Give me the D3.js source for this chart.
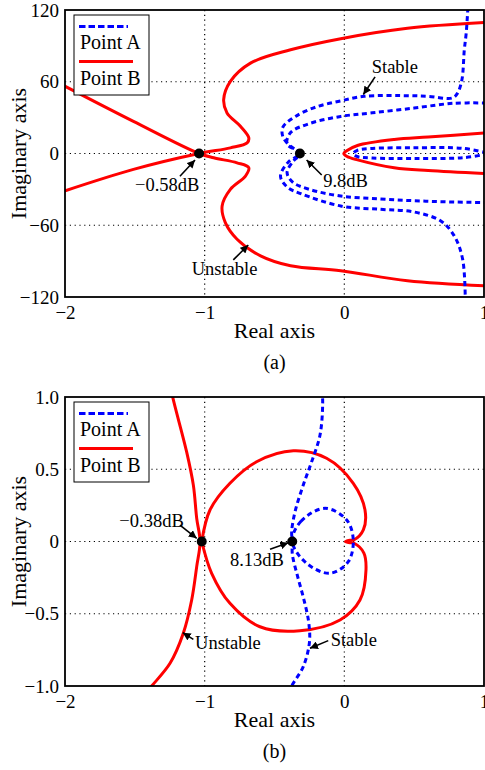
<!DOCTYPE html>
<html>
<head>
<meta charset="utf-8">
<script src="https://cdn.jsdelivr.net/npm/d3@7"></script>
<style>
  html, body { margin: 0; padding: 0; background: #fff; }
  svg { display: block; }
  svg text { font-family: "Liberation Serif", "DejaVu Serif", serif; fill: #000; }
</style>
</head>
<body>
<svg id="chart" width="485" height="770"></svg>
<script>
// ---------- panel (a): Nyquist loci, wide view ----------
const aXTicks = [-2, -1, 0, 1];
const aYTicks = [120, 60, 0, -60, -120];
const aGridX = [-1, 0];
const aGridY = [60, 0, -60];

// Point B (red) – upper branch, from the top right through the -1 crossing
const aRedUpper = [[1.02,109.6],[0.452,104.7],[-0.026,96],[-0.385,86.7],[-0.672,75.6],[-0.816,60.3],
  [-0.864,45],[-0.84,33.9],[-0.744,22.8],[-0.684,13.1],[-0.696,8.9],[-0.816,4.7],[-1.04,0],
  [-1.51,-13.3],[-2.02,-32]];
// Point B (red) – lower branch
const aRedLower = [[1.02,-110.7],[0.452,-106.4],[-0.026,-98],[-0.385,-93.9],[-0.6,-85.6],[-0.768,-71.7],
  [-0.852,-57.8],[-0.875,-43.9],[-0.816,-30],[-0.708,-18.9],[-0.684,-11.9],[-0.768,-7.8],
  [-0.935,-3.6],[-1.04,0],[-1.51,26.9],[-2.02,57.5]];
// Point B (red) – narrow loop near the origin
const aRedLoop = [[1.02,17.3],[0.6,13.8],[0.357,11.7],[0.094,6.7],[0.02,2.5],[-0.004,0],
  [0.02,-2.5],[0.094,-5.3],[0.357,-11.9],[0.6,-14.3],[1.02,-16.8]];

// Point A (blue) – branch entering from the top
const aBlueOuter = [[0.885,122],[0.872,100],[0.859,86.7],[0.842,61.7],[0.811,50.6],[0.775,46.5],
  [0.6,47.8],[0.476,48.3],[0.141,47.8],[-0.026,44],[-0.2,39],[-0.35,31],[-0.44,22],[-0.44,14],
  [-0.39,6.5],[-0.318,0],[-0.37,-7],[-0.41,-16],[-0.37,-24],[-0.25,-30],[-0.026,-35.6],
  [0.25,-38],[0.5,-39.5],[0.75,-40.5],[1.02,-41]];
// Point A (blue) – branch leaving at the bottom
const aBlueInner = [[1.02,42.2],[0.78,42],[0.5,38],[0.2,34],[-0.026,31],[-0.25,25],[-0.385,17.5],
  [-0.41,8],[-0.318,0],[-0.4,-7],[-0.457,-19],[-0.41,-28],[-0.313,-33.5],[-0.026,-43.9],
  [0.261,-46.7],[0.5,-48.9],[0.691,-56.4],[0.787,-68.9],[0.847,-88.3],[0.866,-122]];
// Point A (blue) – thin loop along the real axis
const aBlueLoop = [[1.02,0.5],[0.85,4.3],[0.5,4.8],[0.2,4.2],[0.09,2.5],[0.065,0],[0.09,-2.5],
  [0.2,-3.8],[0.5,-4.2],[0.85,-3.5],[1.02,-0.5]];

const aMarkers = [[-1.04, 0], [-0.318, 0]];
const aNotes = [
  { text: "\u22120.58dB", at: [-1.499, -31], from: [-1.177, -19], to: [-1.069, -5.4] },
  { text: "9.8dB",       at: [-0.151, -28.2], from: [-0.162, -18], to: [-0.27, -5.4] },
  { text: "Stable",      at: [0.196, 66.9], from: [0.22, 64.1], to: [0.136, 49.3] },
  { text: "Unstable",    at: [-1.093, -101.6], from: [-0.795, -89], to: [-0.688, -76.5] }
];

// ---------- panel (b): close-up around -1 ----------
const bXTicks = [-2, -1, 0, 1];
const bYTicks = [1.0, 0.5, 0, -0.5, -1.0];
const bGridX = [-1, 0];
const bGridY = [0.5, 0, -0.5];

// Point B (red) – open branch through the -1 region
const bRedBranch = [[-1.24,1.06],[-1.229,1.0],[-1.129,0.62],[-1.081,0.39],[-1.057,0.16],[-1.033,0.0],
  [-1.057,-0.174],[-1.093,-0.405],[-1.153,-0.635],[-1.248,-0.843],[-1.379,-1.0],[-1.42,-1.05]];
// Point B (red) – heart-shaped loop with its cusp near the origin
const bRedLoop = [[-1.021,0],[-0.962,0.218],[-0.819,0.403],[-0.628,0.552],[-0.365,0.628],
  [-0.127,0.576],[0.064,0.403],[0.148,0.218],[0.136,0.08],[0.07,0.012],[0.03,0.008],[0.008,0],
  [0.03,-0.008],[0.07,-0.012],[0.14,-0.08],[0.155,-0.197],[0.112,-0.405],[-0.031,-0.543],
  [-0.318,-0.617],[-0.604,-0.59],[-0.819,-0.428],[-0.95,-0.22],[-1.021,0]];

// Point A (blue) – open branch
const bBlueBranch = [[-0.16,1.05],[-0.155,0.956],[-0.174,0.737],[-0.234,0.552],[-0.294,0.391],
  [-0.353,0.206],[-0.377,0.068],[-0.373,0],[-0.372,-0.09],[-0.335,-0.24],[-0.29,-0.4],
  [-0.255,-0.56],[-0.25,-0.7],[-0.294,-0.866],[-0.377,-1.0],[-0.395,-1.05]];
// Point A (blue) – small circle
const bBlueLoop = [[-0.373,0],[-0.31,0.14],[-0.138,0.23],[0.017,0.149],[0.064,0.01],
  [0.028,-0.14],[-0.103,-0.22],[-0.27,-0.151]];

const bMarkers = [[-1.021, 0], [-0.373, 0]];
const bNotes = [
  { text: "\u22120.38dB", at: [-1.611, 0.102], from: [-1.177, 0.114], to: [-1.057, 0.022] },
  { text: "8.13dB",      at: [-0.819, -0.17], from: [-0.532, -0.054], to: [-0.401, -0.008] },
  { text: "Unstable",    at: [-1.069, -0.744], from: [-1.081, -0.677], to: [-1.157, -0.631] },
  { text: "Stable",      at: [-0.098, -0.723], from: [-0.115, -0.686], to: [-0.246, -0.739] }
];

const legendLabels = ["Point A", "Point B"];

// ---------- drawing ----------
const FONT = '"Liberation Serif", "DejaVu Serif", serif';
const RED = "#ff0000", BLUE = "#0000ff";
const svg = d3.select("#chart");

svg.append("defs").append("marker")
  .attr("id", "arrow").attr("viewBox", "0 0 10 10")
  .attr("refX", 10).attr("refY", 5)
  .attr("markerWidth", 5).attr("markerHeight", 5)
  .attr("markerUnits", "strokeWidth")
  .attr("orient", "auto")
  .append("path").attr("d", "M0,0 L10,5 L0,10 Z").attr("fill", "#000");

function minus(s) { return String(s).replace("-", "\u2212"); }

function drawPanel(cfg) {
  const { left, top, right, bottom } = cfg.box;
  const x = d3.scaleLinear().domain([-2, 1]).range([left, right]);
  const y = d3.scaleLinear().domain(cfg.yDomain).range([bottom, top]);
  const g = svg.append("g");

  const clipId = "clip-" + cfg.id;
  svg.select("defs").append("clipPath").attr("id", clipId)
    .append("rect").attr("x", left).attr("y", top)
    .attr("width", right - left).attr("height", bottom - top);

  // dotted grid
  const grid = g.append("g").attr("stroke", "#000").attr("stroke-width", 1.2)
    .attr("stroke-dasharray", "1.2,3.6");
  cfg.gridX.forEach(v => grid.append("line")
    .attr("x1", x(v)).attr("x2", x(v)).attr("y1", top).attr("y2", bottom));
  cfg.gridY.forEach(v => grid.append("line")
    .attr("x1", left).attr("x2", right).attr("y1", y(v)).attr("y2", y(v)));

  // curves
  const line = d3.line().x(d => x(d[0])).y(d => y(d[1])).curve(d3.curveCatmullRom.alpha(0.5));
  const closed = d3.line().x(d => x(d[0])).y(d => y(d[1])).curve(d3.curveCatmullRomClosed.alpha(0.5));
  const curves = g.append("g").attr("clip-path", `url(#${clipId})`).attr("fill", "none");
  cfg.red.forEach(s => curves.append("path").attr("d", line(s))
    .attr("stroke", RED).attr("stroke-width", 3).attr("stroke-linejoin", "round"));
  cfg.blue.forEach(s => curves.append("path").attr("d", line(s))
    .attr("stroke", BLUE).attr("stroke-width", 3).attr("stroke-dasharray", "5,3.6"));
  (cfg.blueClosed || []).forEach(s => curves.append("path").attr("d", closed(s))
    .attr("stroke", BLUE).attr("stroke-width", 3).attr("stroke-dasharray", "5,3.6"));

  // axes labels
  const yAxis = d3.axisLeft(y).tickValues(cfg.yTicks).tickSize(0).tickPadding(6).tickFormat(cfg.yFormat);
  const xAxis = d3.axisBottom(x).tickValues(cfg.xTicks).tickSize(0).tickPadding(8.5).tickFormat(d => minus(d));
  const ya = g.append("g").attr("transform", `translate(${left},0)`).call(yAxis);
  const xa = g.append("g").attr("transform", `translate(0,${bottom})`).call(xAxis);
  [ya, xa].forEach(a => {
    a.attr("font-family", FONT);
    a.select(".domain").remove();
    a.selectAll("text").attr("font-family", FONT).attr("font-size", 19).attr("fill", "#000");
  });

  // frame
  g.append("rect").attr("x", left).attr("y", top).attr("width", right - left).attr("height", bottom - top)
    .attr("fill", "none").attr("stroke", "#000").attr("stroke-width", 1.8);

  // legend
  const lg = g.append("g");
  lg.append("rect").attr("x", left + 9).attr("y", top + 5).attr("width", 75).attr("height", 80)
    .attr("fill", "#fff").attr("stroke", "#000").attr("stroke-width", 1);
  lg.append("line").attr("x1", left + 14).attr("x2", left + 63).attr("y1", top + 16.5).attr("y2", top + 16.5)
    .attr("stroke", BLUE).attr("stroke-width", 3).attr("stroke-dasharray", "6.5,3");
  lg.append("line").attr("x1", left + 14).attr("x2", left + 68).attr("y1", top + 51.5).attr("y2", top + 51.5)
    .attr("stroke", RED).attr("stroke-width", 3);
  legendLabels.forEach((t, i) => lg.append("text")
    .attr("x", left + 15).attr("y", top + 39 + i * 35.5)
    .attr("font-family", FONT).attr("font-size", 20).text(t));

  // markers
  g.selectAll(".mk").data(cfg.markers).enter().append("circle")
    .attr("cx", d => x(d[0])).attr("cy", d => y(d[1])).attr("r", 5).attr("fill", "#000");

  // annotations
  cfg.notes.forEach(n => {
    g.append("line").attr("x1", x(n.from[0])).attr("y1", y(n.from[1]))
      .attr("x2", x(n.to[0])).attr("y2", y(n.to[1]))
      .attr("stroke", "#000").attr("stroke-width", 1.6).attr("marker-end", "url(#arrow)");
    g.append("text").attr("x", x(n.at[0])).attr("y", y(n.at[1]))
      .attr("font-family", FONT).attr("font-size", 18.5).text(n.text);
  });

  // axis titles and caption
  g.append("text").attr("x", (left + right) / 2).attr("y", bottom + 41)
    .attr("text-anchor", "middle").attr("font-family", FONT).attr("font-size", 22).text("Real axis");
  g.append("text").attr("transform", `translate(26,${(top + bottom) / 2}) rotate(-90)`)
    .attr("text-anchor", "middle").attr("font-family", FONT).attr("font-size", 22).text("Imaginary axis");
  g.append("text").attr("x", (left + right) / 2).attr("y", bottom + 72)
    .attr("text-anchor", "middle").attr("font-family", FONT).attr("font-size", 20).text(cfg.caption);
}

drawPanel({
  id: "a", box: { left: 65, top: 10, right: 484, bottom: 297 },
  yDomain: [-120, 120], xTicks: aXTicks, yTicks: aYTicks, gridX: aGridX, gridY: aGridY,
  yFormat: d => minus(d),
  red: [aRedUpper, aRedLower, aRedLoop], blue: [aBlueOuter, aBlueInner, aBlueLoop],
  markers: aMarkers, notes: aNotes, caption: "(a)"
});

drawPanel({
  id: "b", box: { left: 65, top: 397, right: 484, bottom: 686 },
  yDomain: [-1, 1], xTicks: bXTicks, yTicks: bYTicks, gridX: bGridX, gridY: bGridY,
  yFormat: d => d === 0 ? "0" : minus(d.toFixed(1)),
  red: [bRedBranch, bRedLoop], blue: [bBlueBranch], blueClosed: [bBlueLoop],
  markers: bMarkers, notes: bNotes, caption: "(b)"
});
</script>
</body>
</html>
